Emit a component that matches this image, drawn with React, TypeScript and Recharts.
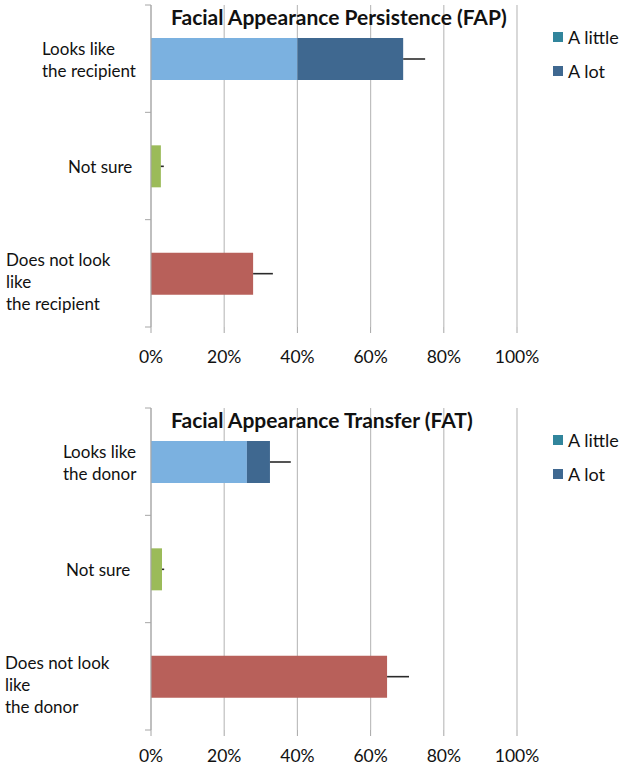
import React from 'react'
import { BarChart, Bar, XAxis, YAxis, CartesianGrid, Cell } from 'recharts'

// FAP panel
const fapCategories = ['Looks like|the recipient', 'Not sure', 'Does not look|like|the recipient']
const fapMain = [40, 2.7, 27.9]
const fapLot = [28.9, 0, 0]
const fapError = [6, 0.8, 5.4]

// FAT panel
const fatCategories = ['Looks like|the donor', 'Not sure', 'Does not look|like|the donor']
const fatMain = [26.2, 3, 64.5]
const fatLot = [6.3, 0, 0]
const fatError = [5.7, 0.6, 6]

const xTicks = [0, 20, 40, 60, 80, 100]
const legendLabels = ['A little', 'A lot']

const mainColors = ['#7BB1E0', '#9BBB59', '#B8605A']
const lotColor = '#3F6890'
const legendColors = ['#31859C', '#3F6890']
const gridColor = '#BFBFBF'
const axisColor = '#A6A6A6'
const FONT = 'Lato, "Open Sans", sans-serif'

const W = 624
const PLOT_LEFT = 151
const PLOT_RIGHT = 517

const ErrorLine = (props: any) => {
  const { x, y, width, height } = props
  if (!width || width <= 0) return null
  const cy = y + height / 2
  return <line x1={x} x2={x + width} y1={cy} y2={cy} stroke="#2a2a2a" strokeWidth={1.6} />
}

function makeTick(lefts: number[], band: number, count: number) {
  return (props: any) => {
    const { y, payload, index } = props
    const lines = String(payload.value).split('|')
    const lineH = 22
    const shift = lines.length > 2 ? 8 : 0
    const top = y - ((lines.length - 1) * lineH) / 2 + shift
    return (
      <g>
        <line x1={PLOT_LEFT - 6} x2={PLOT_LEFT} y1={y - band / 2} y2={y - band / 2} stroke={axisColor} />
        {index === count - 1 && (
          <line x1={PLOT_LEFT - 6} x2={PLOT_LEFT} y1={y + band / 2} y2={y + band / 2} stroke={axisColor} />
        )}
        <text x={lefts[index]} y={top} fontSize={17} fontFamily={FONT} fill="#111" dominantBaseline="central">
          {lines.map((l, i) => (
            <tspan key={i} x={lefts[index]} dy={i === 0 ? 0 : lineH}>
              {l}
            </tspan>
          ))}
        </text>
      </g>
    )
  }
}

interface PanelProps {
  title: string
  categories: string[]
  main: number[]
  lot: number[]
  err: number[]
  top: number
  height: number
  plotTop: number
  plotBottom: number
  labelLefts: number[]
  tickMargin: number
  legendY: number
}

function Panel({ title, categories, main, lot, err, top, height, plotTop, plotBottom, labelLefts, tickMargin, legendY }: PanelProps) {
  const data = categories.map((c, i) => ({ name: c, main: main[i], lot: lot[i], err: err[i] }))
  const xAxisH = 40
  const band = (plotBottom - plotTop) / categories.length
  return (
    <div style={{ position: 'absolute', left: 0, top, width: W, height }}>
      <BarChart
        width={W}
        height={height}
        data={data}
        layout="vertical"
        margin={{ top: plotTop, right: W - PLOT_RIGHT, bottom: height - plotBottom - xAxisH, left: 0 }}
      >
        <CartesianGrid horizontal={false} stroke={gridColor} strokeWidth={1.2} />
        <XAxis
          type="number"
          domain={[0, 100]}
          ticks={xTicks}
          tickFormatter={(v) => `${v}%`}
          axisLine={false}
          tickLine={{ stroke: axisColor }}
          tickSize={6}
          tickMargin={tickMargin}
          height={xAxisH}
          tick={{ fontSize: 17.5, fill: '#111', fontFamily: FONT }}
          interval={0}
        />
        <YAxis
          type="category"
          dataKey="name"
          width={PLOT_LEFT}
          axisLine={{ stroke: axisColor }}
          tickLine={false}
          tick={makeTick(labelLefts, band, categories.length)}
          interval={0}
        />
        <Bar dataKey="main" stackId="a" barSize={42} isAnimationActive={false}>
          {data.map((_, i) => (
            <Cell key={i} fill={mainColors[i]} />
          ))}
        </Bar>
        <Bar dataKey="lot" stackId="a" barSize={42} fill={lotColor} isAnimationActive={false} />
        <Bar dataKey="err" stackId="a" barSize={42} fill="transparent" shape={ErrorLine} isAnimationActive={false} />
      </BarChart>
      <div
        style={{
          position: 'absolute',
          left: 171,
          top: plotTop,
          fontFamily: FONT,
          fontWeight: 700,
          fontSize: 21,
          color: '#111',
          whiteSpace: 'nowrap',
          lineHeight: '24px',
        }}
      >
        {title}
      </div>
      {legendLabels.map((l, i) => (
        <div
          key={l}
          style={{
            position: 'absolute',
            left: 553,
            top: legendY + i * 34 - 11,
            height: 22,
            display: 'flex',
            alignItems: 'center',
            fontFamily: FONT,
            fontSize: 18,
            color: '#111',
          }}
        >
          <span style={{ width: 10, height: 10, background: legendColors[i], marginRight: 5 }} />
          {l}
        </div>
      ))}
    </div>
  )
}

export default function App() {
  return (
    <div style={{ position: 'absolute', left: 0, top: 0, width: W, height: 771, background: '#fff', overflow: 'hidden' }}>
      <Panel
        title="Facial Appearance Persistence (FAP)"
        categories={fapCategories}
        main={fapMain}
        lot={fapLot}
        err={fapError}
        top={0}
        height={385}
        plotTop={5}
        plotBottom={327}
        labelLefts={[42, 68, 6]}
        tickMargin={18}
        legendY={37}
      />
      <Panel
        title="Facial Appearance Transfer (FAT)"
        categories={fatCategories}
        main={fatMain}
        lot={fatLot}
        err={fatError}
        top={385}
        height={386}
        plotTop={23}
        plotBottom={345}
        labelLefts={[63, 66, 5]}
        tickMargin={14}
        legendY={55}
      />
    </div>
  )
}
